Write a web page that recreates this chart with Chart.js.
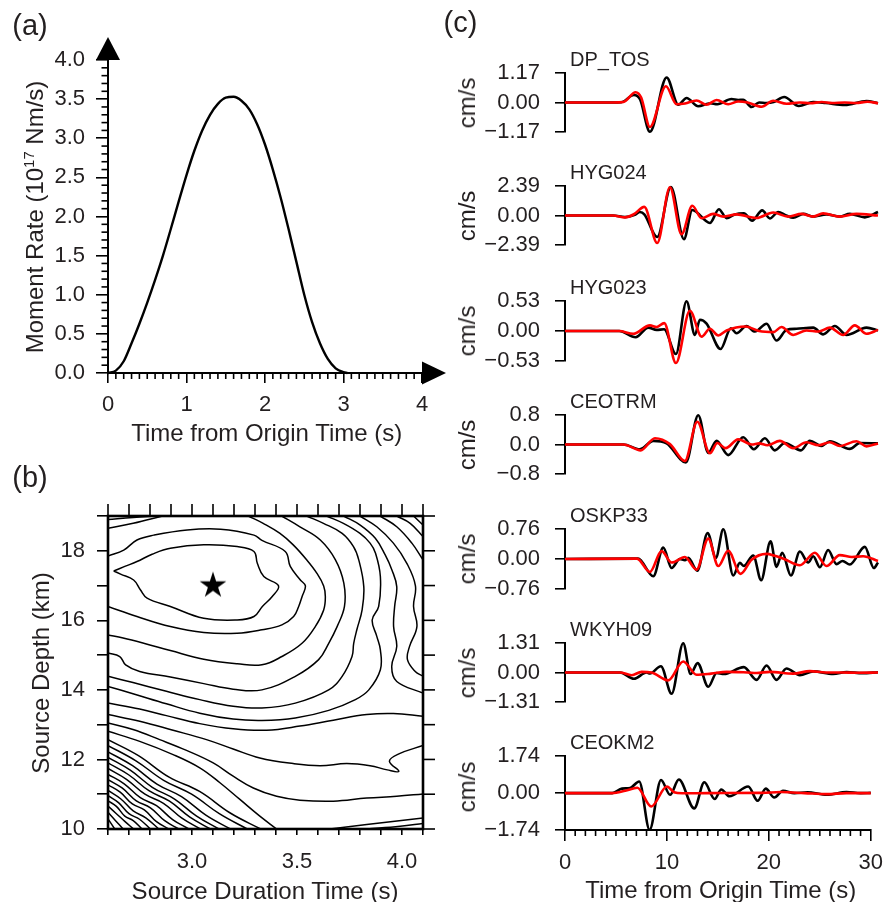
<!DOCTYPE html>
<html>
<head>
<meta charset="utf-8">
<title>Source time function, grid search and waveform fits</title>
<script src="https://cdn.jsdelivr.net/npm/chart.js@4.4.1/dist/chart.umd.min.js"></script>
<style>
  html, body { margin: 0; padding: 0; background: #fff; }
  #figure { position: relative; width: 892px; height: 902px; overflow: hidden;
            font-family: "Liberation Sans", Arial, Helvetica, sans-serif; color: #231f20; }
  #figure canvas { position: absolute; }
  .label { position: absolute; white-space: nowrap; line-height: 1; }
  .label sup { font-size: 62%; vertical-align: 0.6em; line-height: 0; }
</style>
</head>
<body>
<div id="figure"></div>
<script>
// ---------------- (a) moment rate function ----------------
const momentTime = [0, 0.1, 0.2, 0.3, 0.4, 0.5, 0.6, 0.7, 0.8, 0.9, 1.0, 1.1, 1.2, 1.3, 1.4, 1.5,
                    1.6, 1.7, 1.8, 1.9, 2.0, 2.1, 2.2, 2.3, 2.4, 2.5, 2.6, 2.7, 2.8, 2.9, 3.0, 3.05];
const momentRate = [0, 0.03, 0.15, 0.38, 0.63, 0.9, 1.19, 1.5, 1.84, 2.19, 2.53, 2.84, 3.1, 3.3, 3.44, 3.52,
                    3.53, 3.48, 3.37, 3.18, 2.92, 2.6, 2.24, 1.84, 1.42, 1.0, 0.65, 0.38, 0.18, 0.06, 0.01, 0];
const momentTimeTicks = [0, 1, 2, 3, 4];
const momentRateTicks = [0, 0.5, 1.0, 1.5, 2.0, 2.5, 3.0, 3.5, 4.0];

// ---------------- (b) misfit contours over duration / depth ----------------
const durationTicks = [2.6, 2.7, 2.8, 2.9, 3.0, 3.1, 3.2, 3.3, 3.4, 3.5, 3.6, 3.7, 3.8, 3.9, 4.0, 4.1];
const durationLabels = [3.0, 3.5, 4.0];
const depthTicks = [10, 11, 12, 13, 14, 15, 16, 17, 18, 19];
const depthLabels = [10, 12, 14, 16, 18];
const bestDuration = [3.1];
const bestDepth = [17.0];

// closed contour around the best solution
const bestFitLoop = [[2.627,17.42],[2.68,17.55],[2.738,17.69],[2.81,17.9],[2.897,18.07],[3.056,18.17],
  [3.215,18.12],[3.295,17.98],[3.311,17.64],[3.342,17.26],[3.412,16.99],[3.381,16.68],[3.335,16.40],
  [3.295,16.11],[3.215,16.01],[3.056,16.06],[2.897,16.40],[2.786,16.64],[2.754,16.88],[2.722,17.16],
  [2.66,17.33],[2.627,17.42]];

// short contours cutting the upper-left corner
const cornerContours = [
  [[2.6,18.90],[2.72,18.96],[2.83,19.0]],
  [[2.6,18.65],[2.72,18.79],[2.86,19.0]]
];

// contours that wrap around the minimum and open to the left edge
const nestedContours = [
  [[2.6,17.85],[2.675,18.02],[2.738,18.31],[2.818,18.45],[2.977,18.60],[3.136,18.62],[3.295,18.45],[3.333,18.3],
   [3.444,17.98],[3.468,17.55],[3.516,17.16],[3.54,16.99],[3.524,16.68],[3.508,16.40],[3.484,16.11],[3.428,15.87],
   [3.333,15.73],[3.215,15.63],[3.056,15.65],[2.897,15.82],[2.738,16.11],[2.6,16.40]],
  [[3.268,19.0],[3.339,18.79],[3.419,18.50],[3.482,18.17],[3.546,17.74],[3.595,17.35],[3.627,16.99],[3.635,16.68],
   [3.627,16.30],[3.587,15.82],[3.524,15.34],[3.428,14.96],[3.333,14.72],[3.215,14.75],[3.056,14.88],[2.897,15.13],
   [2.77,15.34],[2.672,15.49],[2.6,15.58]],
  [[3.427,19.0],[3.514,18.69],[3.611,18.31],[3.683,17.74],[3.723,17.07],[3.726,16.40],[3.691,15.82],[3.651,15.34],
   [3.603,14.87],[3.492,14.39],[3.333,14.0],[3.196,14.02],[3.056,14.18],[2.897,14.37],[2.751,14.53],[2.684,14.72],
   [2.656,14.96],[2.6,15.06]],
  [[3.546,19.0],[3.626,18.79],[3.715,18.50],[3.769,18.12],[3.794,17.74],[3.818,16.97],[3.81,16.30],[3.785,15.73],
   [3.77,15.34],[3.762,14.96],[3.715,14.39],[3.651,14.0],[3.492,13.62],[3.333,13.48],[3.196,13.53],[3.037,13.72],
   [2.878,13.96],[2.719,14.21],[2.6,14.39]],
  [[3.641,19.0],[3.721,18.79],[3.8,18.50],[3.848,18.22],[3.874,17.93],[3.897,17.26],[3.889,16.40],[3.858,16.01],
   [3.88,15.54],[3.897,15.15],[3.897,14.58],[3.842,14.0],[3.778,13.72],[3.651,13.41],[3.492,13.19],[3.333,13.12],
   [3.196,13.16],[3.037,13.33],[2.878,13.60],[2.719,13.89],[2.6,14.10]]
];

// contours running from the top edge down to the right edge
const rightContours = [
  [[3.722,19.0],[3.801,18.74],[3.873,18.36],[3.92,17.88],[3.952,17.45],[3.975,16.97],[3.965,16.40],[3.96,15.82],
   [3.975,15.25],[3.951,14.67],[3.975,14.24],[4.1,13.91]],
  [[3.8,19.0],[3.88,18.69],[3.959,18.22],[4.023,17.64],[4.064,16.99],[4.055,16.40],[4.071,15.82],[4.036,15.25],
   [4.026,14.87],[4.063,14.53],[4.1,14.39]],
  [[3.896,19.0],[3.975,18.69],[4.047,18.22],[4.1,17.74]],
  [[3.975,19.0],[4.039,18.79],[4.1,18.41]],
  [[4.055,19.0],[4.1,18.74]]
];

// contours crossing from the left edge toward the lower right
const lowerContours = [
  [[2.6,13.62],[2.751,13.45],[2.878,13.26],[3.037,13.03],[3.196,12.88],[3.355,12.84],[3.514,12.96],[3.673,13.13],
   [3.832,13.29],[3.959,13.32],[4.1,13.24]],
  [[2.6,13.29],[2.751,13.10],[2.91,12.84],[3.069,12.57],[3.196,12.30],[3.323,12.04],[3.482,11.88],[3.61,11.82],
   [3.737,11.88],[3.848,11.82],[3.93,11.7],[3.985,11.66],[3.94,11.95],[3.985,12.16],[4.1,12.40]],
  [[2.6,13.05],[2.719,12.86],[2.846,12.57],[2.974,12.26],[3.101,11.90],[3.196,11.52],[3.292,11.18],[3.403,10.94],
   [3.514,10.83],[3.673,10.80],[3.832,10.89],[3.975,10.94],[4.1,11.01]],
  [[2.6,12.81],[2.751,12.52],[2.91,12.14],[3.037,11.76],[3.133,11.33],[3.228,10.85],[3.323,10.37],[3.403,10.0]],
  [[3.657,10.0],[3.832,10.13],[4.1,10.32]],
  [[3.832,10.0],[3.991,10.08],[4.1,10.16]]
];

// closely spaced contours in the shallow / short-duration corner
const steepContours = [
  [[2.6,12.57],[2.745,12.11],[2.891,11.49],[3.036,11.08],[3.182,10.46],[3.327,10.0]],
  [[2.6,12.40],[2.733,11.96],[2.865,11.40],[2.998,11.0],[3.13,10.44],[3.263,10.0]],
  [[2.6,12.22],[2.717,11.82],[2.833,11.29],[2.95,10.93],[3.066,10.40],[3.183,10.0]],
  [[2.6,12.06],[2.706,11.69],[2.811,11.20],[2.917,10.86],[3.022,10.37],[3.128,10.0]],
  [[2.6,11.90],[2.698,11.56],[2.795,11.10],[2.893,10.80],[2.99,10.34],[3.088,10.0]],
  [[2.6,11.74],[2.688,11.43],[2.776,11.0],[2.864,10.74],[2.952,10.31],[3.04,10.0]],
  [[2.6,11.57],[2.677,11.30],[2.754,10.90],[2.831,10.67],[2.908,10.27],[2.985,10.0]],
  [[2.6,11.42],[2.667,11.18],[2.735,10.81],[2.802,10.61],[2.87,10.24],[2.937,10.0]],
  [[2.6,11.27],[2.658,11.06],[2.716,10.72],[2.773,10.55],[2.831,10.21],[2.889,10.0]],
  [[2.6,11.11],[2.66,10.87],[2.72,10.52],[2.78,10.32],[2.842,10.0]],
  [[2.6,10.96],[2.65,10.76],[2.70,10.44],[2.75,10.28],[2.802,10.0]],
  [[2.6,10.81],[2.64,10.65],[2.68,10.37],[2.72,10.24],[2.762,10.0]],
  [[2.6,10.66],[2.64,10.44],[2.68,10.22],[2.722,10.0]],
  [[2.6,10.48],[2.636,10.24],[2.672,10.0]],
  [[2.6,10.29],[2.632,10.0]]
];

// ---------------- (c) observed (black) and synthetic (red) velocity ----------------
const stationNames = ['DP_TOS', 'HYG024', 'HYG023', 'CEOTRM', 'OSKP33', 'WKYH09', 'CEOKM2'];
const stationAmplitudes = [1.17, 2.39, 0.53, 0.8, 0.76, 1.31, 1.74];
const amplitudeLabels = [
  ['1.17', '0.00', '\u22121.17'], ['2.39', '0.00', '\u22122.39'], ['0.53', '0.00', '\u22120.53'],
  ['0.8', '0.0', '\u22120.8'], ['0.76', '0.00', '\u22120.76'], ['1.31', '0.00', '\u22121.31'],
  ['1.74', '0.00', '\u22121.74']
];
const waveTimeTicks = [0, 10, 20, 30];

// [time (s), velocity (cm/s)]
const obsDP_TOS = [[0,0],[4.6,0],[5.4,0.01],[6.6,0.3],[7.2,0.12],[8.14,-1.17],[9.74,1.0],[10.86,-0.09],[11.65,0.18],
  [12.77,-0.15],[13.9,-0.03],[14.6,-0.07],[15.96,0.14],[16.6,0.1],[17.08,0.11],[17.88,-0.18],[18.6,0.0],[19.3,-0.02],
  [20.0,0.02],[21.01,0.22],[22.41,-0.14],[23.79,0.02],[25.0,-0.02],[26.82,-0.1],[28.9,0.06],[30,-0.03]];
const synDP_TOS = [[0,0],[4.6,0],[5.6,0.02],[6.77,0.41],[7.3,0.2],[8.14,-0.98],[9.67,0.65],[10.7,-0.07],[11.5,-0.04],
  [12.61,0.08],[13.57,-0.09],[14.53,0.1],[15.64,-0.07],[16.6,0.04],[17.5,0.0],[18.84,-0.17],[19.96,0.07],[21.23,-0.05],
  [22.5,0.0],[23.5,-0.03],[24.6,0.02],[25.6,-0.02],[26.8,0.0],[27.9,-0.02],[29,0.03],[30,-0.03]];

const obsHYG024 = [[0,0],[4.6,0],[5.75,-0.13],[6.7,0.05],[7.18,0.28],[7.6,0.1],[8.84,-1.75],[10.15,2.33],[11.4,-1.93],
  [12.2,0.45],[13.89,-0.61],[14.75,0.51],[15.49,-0.22],[16.28,0.09],[17.14,0.18],[17.94,-0.42],[18.9,0.42],
  [19.64,-0.24],[20.43,0.28],[21.2,0.0],[21.87,-0.18],[22.83,0.13],[23.79,-0.09],[25.06,0.09],[26.34,-0.09],
  [27.3,0.13],[28.74,-0.15],[30,0.28]];
const synHYG024 = [[0,0],[4.6,0],[5.75,-0.15],[6.6,0.1],[7.6,0.7],[8.84,-2.24],[10.06,2.3],[11.17,-1.53],[12.2,0.79],
  [13.09,-0.22],[14.21,0.13],[15.17,-0.09],[16.44,0.09],[18.36,-0.2],[19.96,0.24],[21.39,-0.09],[22.67,0.13],
  [23.79,-0.09],[24.74,0.17],[26.34,-0.09],[27.94,0.13],[30,0.0]];

const obsHYG023 = [[0,0],[5.2,0],[6.77,-0.11],[7.98,0.06],[8.78,0.02],[9.5,0.03],[10.63,-0.41],[11.65,0.53],
  [12.45,-0.07],[12.93,0.2],[13.57,0.13],[14.91,-0.32],[15.9,0.05],[16.44,-0.04],[17.4,0.09],[18.2,-0.01],
  [19.32,0.13],[20.27,-0.17],[21.23,0.02],[22.19,0.04],[23.79,0.06],[24.74,-0.06],[25.86,0.09],[26.98,-0.07],
  [28.9,0.06],[30,0.01]];
const synHYG023 = [[0,0],[5.2,0],[6.54,-0.05],[8.14,0.1],[8.78,0.07],[9.51,0.14],[10.63,-0.57],[11.97,0.36],
  [13.09,-0.1],[13.89,0.04],[14.69,-0.08],[15.49,0.01],[17.3,0.08],[18.6,0.0],[19.96,-0.02],[20.75,0.07],
  [21.87,-0.07],[23.15,0.01],[24.3,-0.01],[25.38,0.06],[26.66,-0.07],[27.78,0.1],[28.9,-0.05],[30,0.02]];

const obsCEOTRM = [[0,0],[5.6,0],[7.18,-0.13],[8.46,0.1],[9.74,0.03],[11.59,-0.49],[12.77,0.8],[13.73,-0.23],
  [14.53,0.1],[15.64,-0.29],[17.08,0.2],[18.1,-0.13],[19.16,0.17],[20.11,-0.16],[21.07,0.04],[22.61,-0.16],
  [23.47,0.1],[24.58,-0.04],[25.38,0.09],[27.3,-0.12],[28.26,0.04],[30,0.03]];
const synCEOTRM = [[0,0],[5.6,0],[7.25,-0.16],[8.62,0.17],[10.06,0.01],[11.49,-0.45],[12.68,0.62],[13.89,-0.24],
  [14.6,0.04],[15.4,-0.1],[16.6,0.14],[17.9,0.0],[18.6,0.03],[19.4,-0.02],[20.59,0.1],[21.87,-0.1],[23.15,0.06],
  [24.3,-0.02],[25.38,0.06],[26.34,-0.04],[27.94,0.09],[28.9,-0.05],[30,0.03]];

const obsOSKP33 = [[0,0],[7.0,0.01],[8.46,-0.44],[9.42,0.29],[10.22,-0.23],[11.0,0.0],[11.49,-0.03],[11.81,0.03],
  [12.68,-0.3],[13.67,0.66],[14.46,0.03],[15.17,0.76],[16.13,-0.42],[16.76,-0.1],[17.14,-0.18],[18.04,0.09],
  [18.8,-0.54],[19.7,0.45],[20.27,-0.2],[20.82,0.16],[21.65,-0.42],[22.51,0.19],[23.31,-0.09],[23.79,0.07],
  [24.43,-0.21],[25.22,0.23],[26.02,-0.13],[26.6,-0.05],[27.3,-0.14],[28.74,0.31],[29.6,-0.23],[30,-0.09]];
const synOSKP33 = [[0,0],[6.9,0.01],[8.14,-0.33],[9.26,0.2],[10.22,-0.09],[11.49,0.05],[12.61,-0.27],[13.73,0.52],
  [14.69,-0.18],[15.64,0.21],[16.83,-0.38],[17.88,-0.02],[19.32,0.13],[20.11,0.08],[21.0,0.0],[22.51,-0.16],
  [23.95,0.16],[25.06,-0.18],[26.34,0.1],[27.5,0.05],[28.58,0.07],[30,-0.05]];

const obsWKYH09 = [[0,0],[5.27,0],[6.61,-0.28],[7.82,0.0],[8.14,-0.04],[9.19,0.28],[10.22,-0.95],[11.33,1.31],
  [12.04,-0.07],[12.71,0.42],[13.73,-0.64],[14.53,-0.02],[15.23,-0.07],[17.14,0.24],[18.36,-0.33],[19.32,0.31],
  [20.27,-0.33],[21.23,0.18],[22.51,-0.12],[23.79,0.05],[25.7,-0.07],[27.0,0.02],[28.5,-0.03],[30,0.01]];
const synWKYH09 = [[0,0],[5.27,0],[6.39,-0.12],[7.34,0.03],[8.3,0.0],[9.9,-0.35],[11.33,0.49],[12.61,-0.1],
  [14.0,-0.05],[15.49,0.03],[17.5,0.0],[18.36,-0.02],[19.64,0.03],[21.87,-0.05],[23.47,0.06],[25.0,0.0],
  [26.5,0.0],[28.0,-0.01],[30,0.0]];

const obsCEOKM2 = [[0,0],[4.63,0],[5.59,0.21],[6.39,0.24],[7.28,0.55],[8.3,-1.73],[9.42,0.62],[10.31,-0.08],
  [11.17,0.64],[12.68,-0.72],[13.67,0.51],[14.69,-0.28],[15.33,0.17],[16.13,-0.15],[17.98,0.31],[18.9,-0.36],
  [19.7,0.21],[20.53,-0.21],[21.39,0.11],[22.5,0.0],[23.79,0.04],[25.7,-0.08],[27.62,0.05],[29.0,0.0],[30,0.01]];
const synCEOKM2 = [[0,0],[4.63,0],[5.91,0.11],[7.1,0.25],[8.46,-0.63],[10.0,0.31],[10.7,0.04],[11.5,-0.01],
  [14,0.0],[19.3,0.01],[21.2,0.05],[23.5,0.0],[25.7,-0.05],[27.6,0.0],[30,0.0]];

const observedTraces = [obsDP_TOS, obsHYG024, obsHYG023, obsCEOTRM, obsOSKP33, obsWKYH09, obsCEOKM2];
const syntheticTraces = [synDP_TOS, synHYG024, synHYG023, synCEOTRM, synOSKP33, synWKYH09, synCEOKM2];

// ---------------- drawing ----------------
const INK = '#000000';
const TXT = '#231f20';
const RED = '#ff0000';
const FONT = '"Liberation Sans", Arial, Helvetica, sans-serif';
const TICK_FONT = { family: FONT, size: 22 };

Chart.defaults.font.family = FONT;
Chart.defaults.color = TXT;
Chart.defaults.animation = false;
Chart.defaults.events = [];
Chart.defaults.plugins.legend.display = false;
Chart.defaults.plugins.tooltip.enabled = false;
Chart.defaults.elements.point.radius = 0;

const fig = document.getElementById('figure');
const toPoints = pairs => pairs.map(([x, y]) => ({ x, y }));

function makeCanvas(left, top, width, height) {
  const c = document.createElement('canvas');
  c.width = width; c.height = height;
  c.style.left = left + 'px'; c.style.top = top + 'px';
  c.style.width = width + 'px'; c.style.height = height + 'px';
  fig.appendChild(c);
  return c;
}

function addLabel(html, cx, cy, size, opts = {}) {
  const d = document.createElement('div');
  d.className = 'label';
  d.innerHTML = html;
  d.style.fontSize = size + 'px';
  d.style.left = cx + 'px';
  d.style.top = cy + 'px';
  const tx = opts.anchor === 'start' ? '0' : '-50%';
  d.style.transform = `translate(${tx}, -50%)` + (opts.rotate ? ' rotate(-90deg)' : '');
  fig.appendChild(d);
}

// extra tick marks (minor ticks, mirrored ticks) placed through the chart scales
function tickMarks(marks) {
  return {
    id: 'tickMarks',
    afterDraw(chart) {
      const { ctx, chartArea: ca } = chart;
      ctx.save();
      ctx.strokeStyle = INK;
      for (const m of marks) {
        const s = chart.scales[m.scale];
        ctx.lineWidth = m.width || 1.6;
        for (const v of m.values) {
          const p = s.getPixelForValue(v);
          ctx.beginPath();
          if (m.side === 'bottom') { ctx.moveTo(p, ca.bottom); ctx.lineTo(p, ca.bottom + m.len); }
          else if (m.side === 'top') { ctx.moveTo(p, ca.top); ctx.lineTo(p, ca.top - m.len); }
          else if (m.side === 'left') { ctx.moveTo(ca.left, p); ctx.lineTo(ca.left - m.len, p); }
          else { ctx.moveTo(ca.right, p); ctx.lineTo(ca.right + m.len, p); }
          ctx.stroke();
        }
      }
      ctx.restore();
    }
  };
}

// arrowheads at the ends of the moment-rate axes
const axisArrows = {
  id: 'axisArrows',
  afterDraw(chart) {
    const { ctx } = chart;
    const xs = chart.scales.x, ys = chart.scales.y;
    const x0 = xs.getPixelForValue(xs.min), xEnd = xs.getPixelForValue(xs.max);
    const y0 = ys.getPixelForValue(ys.min), yEnd = ys.getPixelForValue(ys.max);
    ctx.save();
    ctx.fillStyle = INK;
    ctx.beginPath();
    ctx.moveTo(x0 - 12, yEnd); ctx.lineTo(x0 + 12, yEnd); ctx.lineTo(x0, yEnd - 23);
    ctx.closePath(); ctx.fill();
    ctx.beginPath();
    ctx.moveTo(xEnd, y0 - 11.5); ctx.lineTo(xEnd, y0 + 11.5); ctx.lineTo(xEnd + 24, y0);
    ctx.closePath(); ctx.fill();
    ctx.restore();
  }
};

// frame around the contour map
const frameBox = {
  id: 'frameBox',
  afterDraw(chart) {
    const { ctx, chartArea: ca } = chart;
    ctx.save();
    ctx.strokeStyle = INK;
    ctx.lineWidth = 2.6;
    ctx.strokeRect(ca.left, ca.top, ca.right - ca.left, ca.bottom - ca.top);
    ctx.restore();
  }
};

function starImage(R) {
  const size = Math.ceil(2 * R + 2);
  const c = document.createElement('canvas');
  c.width = c.height = size;
  const g = c.getContext('2d');
  const cx = size / 2, cy = size / 2, r = R * 0.382;
  g.beginPath();
  for (let k = 0; k < 10; k++) {
    const rad = k % 2 ? r : R;
    const ang = -Math.PI / 2 + k * Math.PI / 5;
    g.lineTo(cx + rad * Math.cos(ang), cy + rad * Math.sin(ang));
  }
  g.closePath();
  g.fillStyle = INK;
  g.fill();
  return c;
}

const near = (a, b) => Math.abs(a - b) < 1e-6;
const steps = (lo, hi, step, skipEvery) => {
  const out = [];
  for (let k = 0; lo + k * step <= hi + 1e-9; k++) if (k % skipEvery !== 0) out.push(lo + k * step);
  return out;
};

// ---------- panel (a) ----------
new Chart(makeCanvas(0, 0, 450, 450), {
  type: 'line',
  data: {
    datasets: [{
      data: momentTime.map((t, i) => ({ x: t, y: momentRate[i] })),
      borderColor: INK, borderWidth: 2.4, pointRadius: 0,
      cubicInterpolationMode: 'monotone', clip: false
    }]
  },
  options: {
    responsive: false, devicePixelRatio: 1,
    layout: { padding: { top: 60, right: 28, bottom: 0, left: 0 } },
    scales: {
      x: {
        type: 'linear', min: 0, max: 4,
        afterFit: s => { s.height = 77; },
        afterBuildTicks: s => { s.ticks = momentTimeTicks.map(v => ({ value: v })); },
        ticks: { font: TICK_FONT, color: TXT, padding: 9, maxRotation: 0, autoSkip: false, callback: v => String(v) },
        grid: { drawOnChartArea: false, tickLength: 10, color: INK, lineWidth: 1.6 },
        border: { color: INK, width: 2 }
      },
      y: {
        type: 'linear', min: 0, max: 4,
        afterFit: s => { s.width = 108; },
        afterBuildTicks: s => { s.ticks = momentRateTicks.map(v => ({ value: v })); },
        ticks: { font: TICK_FONT, color: TXT, padding: 11, autoSkip: false, callback: v => v.toFixed(1) },
        grid: { drawOnChartArea: false, tickLength: 12, color: INK, lineWidth: 1.6 },
        border: { color: INK, width: 2 }
      }
    }
  },
  plugins: [
    tickMarks([
      { scale: 'x', side: 'bottom', len: 6, values: steps(0, 4, 0.1, 10) },
      { scale: 'y', side: 'left', len: 6.5, values: steps(0, 4, 0.1, 5) }
    ]),
    axisArrows
  ]
});

// ---------- panel (b) ----------
const contourStyle = { borderColor: INK, borderWidth: 1.5, pointRadius: 0, tension: 0.4, fill: false };
const contourSets = [cornerContours, [bestFitLoop], nestedContours, rightContours, lowerContours, steepContours]
  .flat()
  .map(line => Object.assign({ type: 'line', data: toPoints(line) }, contourStyle));

new Chart(makeCanvas(0, 470, 450, 432), {
  type: 'line',
  data: {
    datasets: contourSets.concat([{
      type: 'scatter',
      data: bestDuration.map((d, i) => ({ x: d, y: bestDepth[i] })),
      pointStyle: starImage(14), pointRadius: 14, showLine: false
    }])
  },
  options: {
    responsive: false, devicePixelRatio: 1,
    layout: { padding: { top: 46, right: 27, bottom: 0, left: 0 } },
    scales: {
      x: {
        type: 'linear', min: 2.6, max: 4.1,
        afterFit: s => { s.height = 73; },
        afterBuildTicks: s => { s.ticks = durationTicks.map(v => ({ value: v })); },
        ticks: {
          font: TICK_FONT, color: TXT, padding: 14, maxRotation: 0, autoSkip: false,
          callback: v => durationLabels.some(l => near(l, v)) ? v.toFixed(1) : ''
        },
        grid: { drawOnChartArea: false, tickLength: 6, color: INK, lineWidth: 1.6 },
        border: { display: false }
      },
      y: {
        type: 'linear', min: 10, max: 19,
        afterFit: s => { s.width = 108; },
        afterBuildTicks: s => { s.ticks = depthTicks.map(v => ({ value: v })); },
        ticks: {
          font: TICK_FONT, color: TXT, padding: 12, autoSkip: false,
          callback: v => depthLabels.some(l => near(l, v)) ? String(v) : ''
        },
        grid: { drawOnChartArea: false, tickLength: 11, color: INK, lineWidth: 1.6 },
        border: { display: false }
      }
    }
  },
  plugins: [
    tickMarks([
      { scale: 'x', side: 'top', len: 12, values: durationTicks },
      { scale: 'y', side: 'right', len: 12, values: depthTicks }
    ]),
    frameBox
  ]
});

// ---------- panel (c) ----------
const traceTop = [60, 173, 288, 402, 516, 630, 743];
const traceBottom = [145, 258, 374, 487, 602, 715, 830];

stationNames.forEach((name, i) => {
  const last = i === stationNames.length - 1;
  const amp = stationAmplitudes[i];
  const labels = amplitudeLabels[i];
  const top = traceTop[i] - 15;
  const height = last ? 902 - top : traceBottom[i] - traceTop[i] + 30;
  new Chart(makeCanvas(440, top, 452, height), {
    type: 'line',
    data: {
      datasets: [
        // observed trace underneath, synthetic drawn over it
        { data: toPoints(observedTraces[i]), borderColor: INK, borderWidth: 2.6, order: 2,
          cubicInterpolationMode: 'monotone', pointRadius: 0, clip: false },
        { data: toPoints(syntheticTraces[i]), borderColor: RED, borderWidth: 2.6, order: 1,
          cubicInterpolationMode: 'monotone', pointRadius: 0, clip: false }
      ]
    },
    options: {
      responsive: false, devicePixelRatio: 1,
      layout: { padding: { top: 15, right: 14, bottom: last ? 0 : 15, left: 0 } },
      scales: {
        x: {
          type: 'linear', min: 0, max: 30, display: last,
          afterFit: s => { if (last) s.height = 72; },
          afterBuildTicks: s => { s.ticks = waveTimeTicks.map(v => ({ value: v })); },
          ticks: { font: TICK_FONT, color: TXT, padding: 9, maxRotation: 0, autoSkip: false, callback: v => String(v) },
          grid: { drawOnChartArea: false, tickLength: 11, color: INK, lineWidth: 1.6 },
          border: { color: INK, width: 2 }
        },
        y: {
          type: 'linear', min: -amp, max: amp,
          afterFit: s => { s.width = 125; },
          afterBuildTicks: s => { s.ticks = [-amp, 0, amp].map(v => ({ value: v })); },
          ticks: {
            font: TICK_FONT, color: TXT, padding: 15, autoSkip: false,
            callback: v => v > 0 ? labels[0] : (v < 0 ? labels[2] : labels[1])
          },
          grid: { drawOnChartArea: false, tickLength: 10, color: INK, lineWidth: 1.6 },
          border: { color: INK, width: 2 }
        }
      }
    },
    plugins: last ? [tickMarks([
      { scale: 'x', side: 'bottom', len: 6, values: steps(0, 30, 1, 10) }
    ])] : []
  });
  addLabel('cm/s', 467, (traceTop[i] + traceBottom[i]) / 2, 24, { rotate: true });
  addLabel(name, 570, traceTop[i] - 1, 20, { anchor: 'start' });
});

// ---------- text ----------
addLabel('(a)', 30, 24.5, 29);
addLabel('(b)', 30, 477, 29);
addLabel('(c)', 460.5, 21.6, 29);
addLabel('Moment Rate (10<sup>17</sup> Nm/s)', 35, 217, 24, { rotate: true });
addLabel('Time from Origin Time (s)', 266.7, 433.3, 24);
addLabel('Source Depth (km)', 41, 673, 24, { rotate: true });
addLabel('Source Duration Time (s)', 265, 890.7, 24);
addLabel('Time from Origin Time (s)', 720.7, 890, 24);
</script>
</body>
</html>
